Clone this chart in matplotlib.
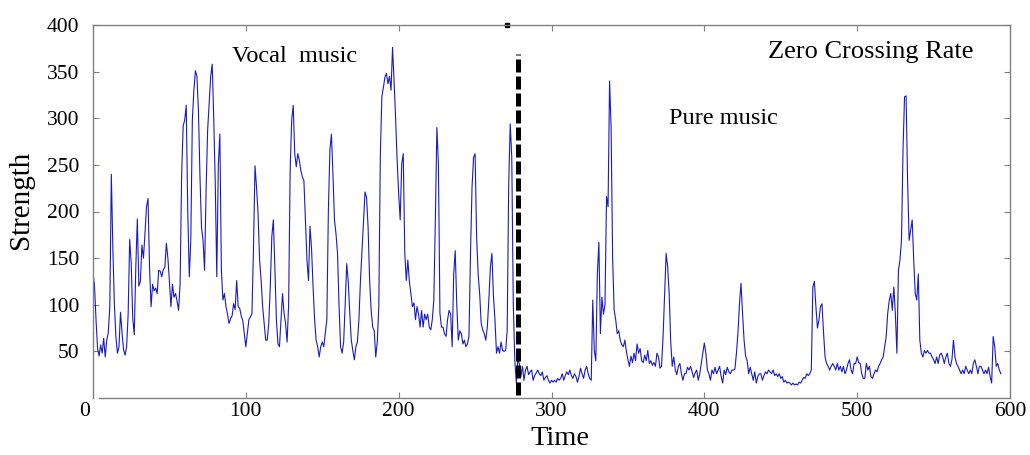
import matplotlib
matplotlib.use("Agg")
import matplotlib.pyplot as plt
import matplotlib.transforms as mtransforms

# Zero crossing rate values (one per time step, 0..594)
zcr = [
    134, 120, 83, 53, 45, 57, 48, 64, 44, 62,
    70, 98, 240, 160, 100, 65, 48, 55, 92, 70,
    52, 46, 55, 90, 170, 145, 85, 68, 140, 192,
    120, 125, 164, 150, 176, 205, 214, 140, 98, 122,
    115, 118, 112, 137, 136, 130, 138, 140, 166, 150,
    125, 98, 122, 108, 112, 104, 94, 123, 240, 292,
    298, 314, 200, 130, 170, 298, 330, 351, 345, 308,
    237, 183, 169, 137, 223, 287, 315, 345, 358, 300,
    230, 130, 250, 283, 137, 105, 112, 98, 90, 80,
    85, 88, 101, 95, 126, 98, 96, 88, 83, 69,
    55, 70, 84, 87, 90, 160, 249, 226, 198, 148,
    126, 98, 80, 62, 62, 80, 120, 173, 191, 140,
    84, 58, 55, 84, 112, 91, 80, 60, 100, 244,
    298, 314, 262, 248, 262, 255, 244, 237, 233, 191,
    148, 126, 184, 160, 119, 84, 62, 55, 44, 55,
    60, 55, 70, 84, 200, 266, 283, 240, 191, 176,
    155, 98, 55, 48, 60, 100, 144, 125, 91, 62,
    51, 41, 55, 60, 84, 126, 158, 191, 221, 215,
    183, 126, 94, 76, 72, 44, 60, 98, 260, 323,
    333, 344, 348, 337, 345, 330, 376, 340, 300, 255,
    219, 191, 251, 262, 155, 126, 148, 125, 112, 98,
    102, 84, 98, 90, 76, 94, 76, 90, 84, 90,
    76, 73, 84, 105, 191, 290, 251, 91, 76, 76,
    69, 66, 84, 94, 90, 55, 133, 158, 101, 62,
    72, 69, 58, 62, 55, 58, 66, 155, 226, 258,
    262, 173, 133, 112, 80, 73, 69, 62, 76, 105,
    140, 155, 110, 84, 48, 55, 48, 60, 51, 50,
    51, 72, 230, 294, 258, 100, 40, 16, 44, 36,
    23, 34, 19, 30, 34, 25, 28, 30, 19, 24,
    27, 30, 26, 24, 28, 19, 22, 24, 19, 16,
    19, 17, 19, 17, 21, 19, 21, 26, 19, 24,
    28, 25, 30, 24, 21, 26, 23, 17, 23, 32,
    26, 21, 30, 34, 26, 21, 19, 105, 51, 40,
    133, 167, 69, 108, 90, 100, 216, 205, 340, 290,
    150, 94, 84, 69, 72, 62, 57, 55, 62, 50,
    41, 34, 45, 38, 48, 40, 58, 48, 53, 40,
    38, 46, 40, 51, 37, 40, 35, 38, 34, 48,
    44, 32, 34, 66, 110, 155, 141, 112, 60, 34,
    44, 30, 25, 34, 37, 26, 19, 26, 26, 33,
    30, 34, 28, 22, 27, 30, 19, 26, 37, 48,
    59, 48, 30, 26, 19, 30, 26, 33, 26, 30,
    34, 23, 16, 30, 25, 33, 28, 26, 30, 30,
    31, 48, 70, 101, 123, 91, 62, 45, 40, 26,
    33, 26, 19, 28, 16, 23, 26, 26, 19, 24,
    28, 26, 30, 28, 26, 30, 24, 26, 23, 26,
    21, 23, 17, 19, 16, 17, 16, 14, 16, 14,
    15, 14, 17, 16, 19, 22, 21, 26, 24, 26,
    30, 119, 125, 98, 75, 84, 98, 101, 70, 44,
    37, 34, 30, 34, 37, 34, 30, 37, 30, 34,
    28, 34, 26, 30, 37, 41, 30, 26, 37, 37,
    44, 38, 37, 26, 21, 21, 37, 30, 34, 23,
    21, 26, 30, 28, 34, 37, 41, 44, 55, 66,
    91, 105, 112, 94, 119, 90, 48, 137, 148, 169,
    266, 323, 324, 233, 169, 180, 191, 148, 112, 105,
    133, 62, 48, 44, 51, 48, 51, 48, 48, 44,
    41, 37, 44, 37, 46, 48, 44, 37, 44, 48,
    37, 34, 41, 62, 44, 37, 34, 30, 26, 30,
    26, 34, 30, 26, 30, 26, 37, 41, 34, 26,
    34, 34, 30, 26, 30, 26, 33, 23, 16, 66,
    55, 34, 37, 30, 26,
]
time = list(range(len(zcr)))

boundary_x = 277.8
boundary_y = [3, 369]

xticks = [0, 100, 200, 300, 400, 500, 600]
yticks = [50, 100, 150, 200, 250, 300, 350, 400]

serif = ["Liberation Serif", "DejaVu Serif"]
plt.rcParams["font.family"] = serif

fig = plt.figure(figsize=(10.30, 4.55), dpi=100)
ax = fig.add_axes([93 / 1030, 1 - 398 / 455, (1010 - 93) / 1030, (398 - 25) / 455])

ax.plot(time, zcr, color="#1a1ac4", lw=0.8)
ax.plot([boundary_x, boundary_x], boundary_y, color="black", lw=3.6,
        linestyle=(0, (2.6, 0.8)), solid_capstyle="butt", dash_capstyle="butt")
ax.plot([270.7], [400], marker="s", color="black", markersize=3, clip_on=False)

ax.set_xlim(0, 600)
ax.set_ylim(0, 400)
ax.set_xticks(xticks)
ax.set_yticks(yticks)
ax.set_xticklabels([str(v) for v in xticks])
ax.set_yticklabels([str(v) for v in yticks])

for s in ax.spines.values():
    s.set_color("#808080")
    s.set_linewidth(1.0)
ax.spines["bottom"].set_bounds(4, 600)

ax.tick_params(axis="both", which="both", direction="in", length=4, width=0.8,
               color="#808080", top=True, right=True, labelsize=15.5)
ax.tick_params(axis="y", pad=10)
ax.tick_params(axis="x", pad=3)

# shift the "0" label slightly to the left, as in the reference
lbl0 = ax.get_xticklabels()[0]
lbl0.set_transform(lbl0.get_transform() + mtransforms.ScaledTranslation(-8 / 100, 0, fig.dpi_scale_trans))

ax.set_xlabel("Time", fontsize=20.5, labelpad=5)
ax.set_ylabel("Strength", fontsize=21, labelpad=6)
ax.xaxis.set_label_coords(0.509, -0.075)
ax.yaxis.set_label_coords(-0.0645, 0.531)

ax.text(91, 366, "Vocal  music", fontsize=17.5, ha="left", va="center")
ax.text(377, 300, "Pure music", fontsize=17.5, ha="left", va="center")
ax.text(576, 371, "Zero Crossing Rate", fontsize=19, ha="right", va="center")

fig.savefig("out.png", dpi=100)
